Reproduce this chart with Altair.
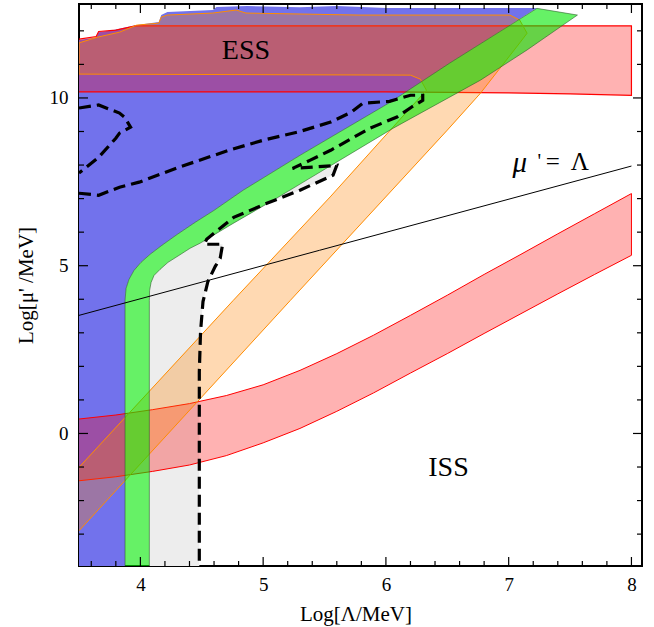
import altair as alt
import pandas as pd

# ---------------- data (log10 units) ----------------
# blue region (upper-left of the green band)
blue_x = [3.5, 3.5, 3.64, 3.66, 3.77, 3.96, 4.15, 4.17, 4.22, 4.59, 4.62, 4.87, 5.3, 5.6, 6.0, 7.23,
          6.52, 6.03, 5.30, 4.837, 4.600, 4.445, 4.299, 4.176, 4.079, 4.005, 3.948, 3.907, 3.883, 3.875, 3.875]
blue_y = [-4, 11.73, 11.80, 11.96, 12.02, 12.17, 12.26, 12.47, 12.56, 12.62, 12.71, 12.74, 12.70, 12.74, 12.68, 12.68,
          11.04, 9.86, 8.29, 7.25, 6.65, 6.29, 5.93, 5.61, 5.34, 5.10, 4.86, 4.59, 4.32, 3.96, -4]

# grey region (between green band and dashed contour)
grey_x = [4.073, 4.073, 4.075, 4.087, 4.111, 4.160, 4.225, 4.307, 4.405, 4.486, 4.755, 5.081, 5.55, 5.60,
          5.57, 5.30, 5.03, 4.76, 4.54, 4.52, 4.67, 4.65, 4.61, 4.55, 4.51, 4.49, 4.48, 4.48]
grey_y = [-4, 3.96, 4.26, 4.50, 4.71, 4.89, 5.10, 5.29, 5.52, 5.67, 6.26, 6.95, 7.96, 7.99,
          7.70, 7.25, 6.86, 6.44, 5.79, 5.64, 5.64, 5.22, 4.98, 4.53, 3.93, 3.03, 1.83, -4]

# green band
green_x = [3.875, 3.875, 3.883, 3.907, 3.948, 4.005, 4.079, 4.176, 4.299, 4.445, 4.600, 4.837, 5.30, 6.03, 6.52,
           7.23, 7.56, 7.15, 6.77, 6.06, 5.081, 4.755, 4.486, 4.405, 4.307, 4.225, 4.160, 4.111, 4.087,
           4.075, 4.073, 4.073]
green_y = [-4, 3.96, 4.32, 4.59, 4.86, 5.10, 5.34, 5.61, 5.93, 6.29, 6.65, 7.25, 8.29, 9.86, 11.04,
           12.67, 12.47, 11.43, 10.53, 9.10, 6.95, 6.26, 5.67, 5.52, 5.29, 5.10, 4.89, 4.71, 4.50,
           4.26, 3.96, -4]

# red band at the top (ESS)
ess_x = [3.5, 6.0, 7.0, 7.5, 8.0, 8.0, 3.96, 3.80, 3.66, 3.64, 3.5]
ess_y = [10.18, 10.18, 10.15, 10.12, 10.08, 12.15, 12.15, 12.02, 11.98, 11.83, 11.75]

# red band at the bottom (ISS): upper edge left->right, then lower edge right->left
iss_x = [3.5, 3.8, 4.1, 4.4, 4.7, 5.0, 5.3, 5.6, 5.9, 6.2, 6.5, 6.8, 7.1, 7.4, 7.7, 8.0,
         8.0, 7.7, 7.4, 7.1, 6.8, 6.5, 6.2, 5.9, 5.6, 5.3, 5.0, 4.7, 4.4, 4.1, 3.8, 3.5]
iss_y = [0.43, 0.55, 0.71, 0.89, 1.13, 1.45, 1.88, 2.38, 2.93, 3.52, 4.12, 4.74, 5.34, 5.95, 6.55, 7.15,
         5.31, 4.74, 4.16, 3.57, 2.98, 2.38, 1.80, 1.21, 0.66, 0.15, -0.28, -0.66, -0.94, -1.13, -1.29, -1.41]

# orange hook-shaped band
orange_x = [3.5, 5.22, 6.50, 6.77, 7.09, 7.15, 7.09, 7.01, 5.78, 4.86, 4.78, 4.59, 4.22, 4.17, 4.15,
            3.97, 3.83, 3.65, 3.5, 3.5, 6.20, 6.28, 6.33, 6.198, 5.546, 4.755, 3.5]
orange_y = [-2.90, 3.96, 9.04, 10.14, 11.64, 11.93, 12.32, 12.47, 12.47, 12.53, 12.62, 12.53, 12.47, 12.41, 12.23,
            12.17, 11.96, 11.81, 11.64, 10.71, 10.68, 10.56, 10.23, 9.70, 7.05, 3.96, -1.01]

# line mu' = Lambda
mu_x = [3.5, 5.46, 8.0]
mu_y = [3.52, 5.46, 7.97]

# dashed contour (main)
dash1_x = [3.50, 3.66, 3.83, 3.99, 4.31, 4.72, 5.00, 5.28, 5.55, 5.72, 5.81, 6.03, 6.20, 6.30, 6.30, 6.21,
           6.09, 5.87, 5.55, 5.38, 5.24, 5.60, 5.57, 5.30, 5.03, 4.76, 4.54, 4.52, 4.67, 4.65, 4.61, 4.55,
           4.51, 4.49, 4.48, 4.48]
dash1_y = [7.16, 7.10, 7.34, 7.49, 7.93, 8.44, 8.74, 8.98, 9.28, 9.58, 9.84, 9.90, 10.08, 10.08, 9.93, 9.73,
           9.43, 9.10, 8.44, 8.14, 7.90, 7.99, 7.70, 7.25, 6.86, 6.44, 5.79, 5.64, 5.64, 5.22, 4.98, 4.53,
           3.93, 3.03, 1.83, -4]
# dashed contour (small loop, upper left)
dash2_x = [3.5, 3.66, 3.83, 3.87, 3.92, 3.83, 3.80, 3.66, 3.5]
dash2_y = [9.70, 9.79, 9.55, 9.43, 9.13, 8.95, 8.80, 8.23, 7.76]

# ticks
x_major = [4, 5, 6, 7, 8]
x_minor = [3.6, 3.8, 4.2, 4.4, 4.6, 4.8, 5.2, 5.4, 5.6, 5.8, 6.2, 6.4, 6.6, 6.8, 7.2, 7.4, 7.6, 7.8]
y_major = [0, 5, 10]
y_minor = [-3, -2, -1, 1, 2, 3, 4, 6, 7, 8, 9, 11, 12]

# region labels
lab_text = ["ESS", "ISS"]
lab_x = [4.86, 6.51]
lab_y = [11.40, -1.02]

# ---------------- chart ----------------
W, H = 563, 562
SERIF = "Liberation Serif"
xs = alt.Scale(domain=[3.5, 8.086], nice=False, zero=False)
ys = alt.Scale(domain=[-3.95, 12.8], nice=False, zero=False)
xaxis = alt.Axis(values=x_major, format="d", ticks=False, domain=False, grid=False,
                 labelFont=SERIF, labelFontSize=19, labelPadding=9, labelColor="black",
                 titleFont=SERIF, titleFontSize=21, titleFontWeight="normal", titlePadding=9,
                 titleColor="black", titleX=W / 2 - 5)
yaxis = alt.Axis(values=y_major, format="d", ticks=False, domain=False, grid=False,
                 labelFont=SERIF, labelFontSize=19, labelPadding=11, labelColor="black",
                 titleFont=SERIF, titleFontSize=21, titleFontWeight="normal", titlePadding=13,
                 titleColor="black")
X = alt.X("x:Q", scale=xs, axis=xaxis, title="Log[Λ/MeV]")
Y = alt.Y("y:Q", scale=ys, axis=yaxis, title="Log[μ' /MeV]")


def poly(xv, yv):
    return pd.DataFrame({"x": xv, "y": yv, "i": list(range(len(xv)))})


def shape(xv, yv, **kw):
    return alt.Chart(poly(xv, yv)).mark_line(clip=True, **kw).encode(
        x=X, y=Y, order="i:Q")


blue = shape(blue_x, blue_y, fill="#7272EC", fillOpacity=1, strokeOpacity=0)
grey = shape(grey_x, grey_y, fill="#EDEDED", fillOpacity=1, strokeOpacity=0)
ess = shape(ess_x, ess_y, fill="#FF0000", fillOpacity=0.3, stroke="#FF0000", strokeWidth=1.2)
iss = shape(iss_x, iss_y, fill="#FF0000", fillOpacity=0.3, stroke="#FF0000", strokeWidth=1)
orange = shape(orange_x, orange_y, fill="#FF8000", fillOpacity=0.3, stroke="#FF8C00", strokeWidth=1)
green = shape(green_x, green_y, fill="#00E800", fillOpacity=0.6, stroke="#2F5F2F",
              strokeWidth=1, strokeOpacity=0.6)
muline = shape(mu_x, mu_y, stroke="black", strokeWidth=1)
dash1 = shape(dash1_x, dash1_y, stroke="black", strokeWidth=3.2, strokeDash=[12, 6])
dash2 = shape(dash2_x, dash2_y, stroke="black", strokeWidth=3.2, strokeDash=[12, 6])

labels = alt.Chart(pd.DataFrame({"x": lab_x, "y": lab_y, "t": lab_text})).mark_text(
    font=SERIF, fontSize=28, color="black").encode(x=X, y=Y, text="t:N")

mu_lab = alt.Chart(pd.DataFrame({"x": [7.09], "y": [7.78], "t": ["μ"]})).mark_text(
    font=SERIF, fontSize=29, fontStyle="italic", color="black", baseline="alphabetic").encode(
    x=X, y=Y, text="t:N")
prime_lab = alt.Chart(pd.DataFrame({"x": [7.25], "y": [7.90], "t": ["'"]})).mark_text(
    font=SERIF, fontSize=20, color="black", baseline="alphabetic").encode(x=X, y=Y, text="t:N")
eq_lab = alt.Chart(pd.DataFrame({"x": [7.36, 7.58], "y": [7.84, 7.84], "t": ["=", "Λ"]})).mark_text(
    font=SERIF, fontSize=25, color="black", baseline="alphabetic").encode(x=X, y=Y, text="t:N")


def xticks(vals, length):
    d = pd.DataFrame({"x": vals})
    bot = alt.Chart(d).mark_rule(color="black", strokeWidth=1.2).encode(
        x=X, y=alt.value(H), y2=alt.value(H - length))
    top = alt.Chart(d).mark_rule(color="black", strokeWidth=1.2).encode(
        x=X, y=alt.value(0), y2=alt.value(length))
    return bot + top


def yticks(vals, length):
    d = pd.DataFrame({"y": vals})
    left = alt.Chart(d).mark_rule(color="black", strokeWidth=1.2).encode(
        y=Y, x=alt.value(0), x2=alt.value(length))
    right = alt.Chart(d).mark_rule(color="black", strokeWidth=1.2).encode(
        y=Y, x=alt.value(W), x2=alt.value(W - length))
    return left + right


chart = alt.layer(
    blue, grey, ess, iss, orange, green, muline, dash1, dash2,
    labels, mu_lab, prime_lab, eq_lab,
    xticks(x_major, 9), xticks(x_minor, 5), yticks(y_major, 9), yticks(y_minor, 5),
).properties(
    width=W, height=H,
    padding={"left": 79, "top": 4, "right": 12, "bottom": 61},
    autosize=alt.AutoSizeParams(type="none"),
    background="white",
).configure_view(stroke="black", strokeWidth=2)

chart.save("out.html", embed_options={"renderer": "svg", "actions": False})
